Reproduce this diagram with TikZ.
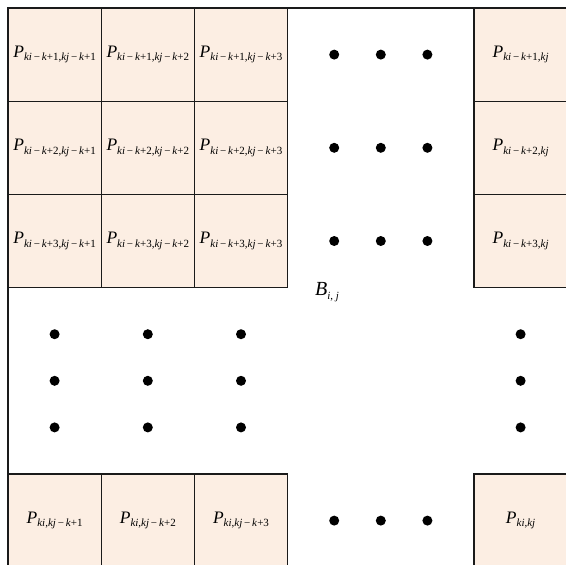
\documentclass[tikz,border=0pt]{standalone}
\usepackage{fontspec}
\setmainfont{Liberation Serif}
\usetikzlibrary{calc}

% Label with a small subscript, set in text so it keeps the Times widths
\newcommand{\sublab}[2]{\textit{#1}\raisebox{-0.45ex}{\fontsize{6.6}{7}\selectfont #2}}
\newcommand{\mi}{\,−\,}

\begin{document}
\begin{tikzpicture}[x=0.6pt, y=-0.6pt]

    % Define the cell size (in picture units) and the grid origin
    \def\cellSize{93.2}
    \def\gridOrigin{8}

    \definecolor{borderColour}{HTML}{1A1A1A}
    \definecolor{fillColour}{HTML}{FCEEE3}

    \tikzset{
        pcell/.style={draw=borderColour, fill=fillColour, line width=0.8pt,
            minimum size=\cellSize*0.6pt, inner sep=0pt, font=\fontsize{10.5}{12}\selectfont},
        gapdot/.style={fill=black}
    }

    % Fix the picture size
    \useasboundingbox (0,0) rectangle (566,564);
    \clip (0,0) rectangle (566,564);

    % Draw the block frame
    \draw[draw=borderColour, line width=0.8pt] (\gridOrigin,\gridOrigin) rectangle (\gridOrigin+6*\cellSize,\gridOrigin+6*\cellSize);

    % Top left pixels
    \foreach \r in {1,2,3}
        \foreach \c in {1,2,3}
            \node[pcell] (p\r\c) at (\gridOrigin+\c*\cellSize-\cellSize/2, \gridOrigin+\r*\cellSize-\cellSize/2)
                {\sublab{P}{\textit{ki}\mi\textit{k}+\r,\textit{kj}\mi\textit{k}+\c}};

    % Right column
    \foreach \r in {1,2,3}
        \node[pcell] (p\r6) at (\gridOrigin+5.5*\cellSize, \gridOrigin+\r*\cellSize-\cellSize/2)
            {\sublab{P}{\textit{ki}\mi\textit{k}+\r,\textit{kj}}};

    % Bottom row
    \foreach \c in {1,2,3}
        \node[pcell] (p6\c) at (\gridOrigin+\c*\cellSize-\cellSize/2, \gridOrigin+5.5*\cellSize)
            {\sublab{P}{\textit{ki},\textit{kj}\mi\textit{k}+\c}};

    % Corner pixel
    \node[pcell] (p66) at (\gridOrigin+5.5*\cellSize, \gridOrigin+5.5*\cellSize) {\sublab{P}{\textit{ki},\textit{kj}}};

    % Block label
    \node[font=\fontsize{12}{14}\selectfont] (blk) at (327,292) {\sublab{B}{\textit{i}, \textit{j}}};

    % Draw the dots in the gaps
    \foreach \k in {1,2,3} {
        \foreach \n in {1,2,3} {
            \fill[gapdot] (\gridOrigin+3*\cellSize+\k*\cellSize/2, \gridOrigin+\n*\cellSize-\cellSize/2) circle[radius=3pt];
            \fill[gapdot] (\gridOrigin+\n*\cellSize-\cellSize/2, \gridOrigin+3*\cellSize+\k*\cellSize/2) circle[radius=3pt];
        }
        \fill[gapdot] (\gridOrigin+5.5*\cellSize, \gridOrigin+3*\cellSize+\k*\cellSize/2) circle[radius=3pt];
        \fill[gapdot] (\gridOrigin+3*\cellSize+\k*\cellSize/2, \gridOrigin+5.5*\cellSize) circle[radius=3pt];
    }

\end{tikzpicture}
\end{document}
